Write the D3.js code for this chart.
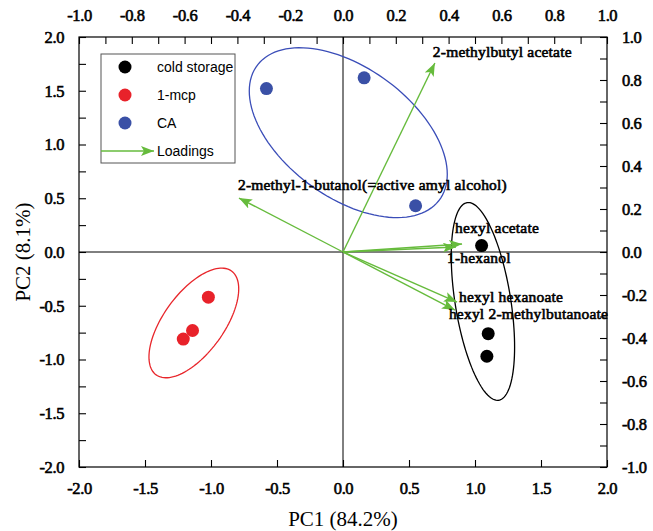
<!DOCTYPE html>
<html>
<head>
<meta charset="utf-8">
<script src="https://cdn.jsdelivr.net/npm/d3@7"></script>
<style>
  body { margin: 0; background: #fff; }
  svg { display: block; }
</style>
</head>
<body>
<svg id="chart" width="653" height="531"></svg>
<script>
// groups (scores, bottom/left axes)
var groups = ['cold storage', '1-mcp', 'CA'];
var groupColors = ['#000000', '#e8222a', '#3a50a6'];
var lineColors = ['#000000', '#e8262b', '#3a4db8'];

var scoresX = [[1.05, 1.10, 1.09], [-1.02, -1.14, -1.21], [-0.58, 0.16, 0.55]];
var scoresY = [[0.06, -0.76, -0.97], [-0.42, -0.73, -0.81], [1.52, 1.62, 0.43]];

// confidence ellipses: centre, half extents, correlation
var ellCx = [1.06, -1.13, 0.04];
var ellCy = [-0.46, -0.66, 1.11];
var ellHx = [0.24, 0.34, 0.75];
var ellHy = [0.92, 0.51, 0.79];
var ellR = [-0.46, 0.62, -0.49];

// loadings (top/right axes)
var loadNames = ['2-methylbutyl acetate', '2-methyl-1-butanol(=active amyl alcohol)',
  'hexyl acetate', '1-hexanol', 'hexyl hexanoate', 'hexyl 2-methylbutanoate'];
var loadX = [0.348, -0.394, 0.451, 0.428, 0.432, 0.424];
var loadY = [0.879, 0.251, 0.037, 0.023, -0.233, -0.27];

// ticks
var pcTicks = [-2.0, -1.5, -1.0, -0.5, 0.0, 0.5, 1.0, 1.5, 2.0];
var pcMinor = [-1.75, -1.25, -0.75, -0.25, 0.25, 0.75, 1.25, 1.75];
var loadTicks = [-1.0, -0.8, -0.6, -0.4, -0.2, 0.0, 0.2, 0.4, 0.6, 0.8, 1.0];
var loadMinor = [-0.9, -0.7, -0.5, -0.3, -0.1, 0.1, 0.3, 0.5, 0.7, 0.9];

var svg = d3.select('#chart');
var L = 79, R = 607, T = 37, B = 467;

var x = d3.scaleLinear().domain([-2, 2]).range([L, R]);
var y = d3.scaleLinear().domain([-2, 2]).range([B, T]);
var x2 = d3.scaleLinear().domain([-1, 1]).range([L, R]);
var y2 = d3.scaleLinear().domain([-1, 1]).range([B, T]);

var serif = '"Liberation Serif", "Times New Roman", serif';
var sans = '"Liberation Sans", Arial, sans-serif';
var green = '#66bb3c';

// regular serif + thin stroke = bold look
function boldSerif(sel, size, ls) {
  sel.style('font-family', serif).style('font-size', size + 'px')
    .style('font-weight', 'normal')
    .attr('fill', '#000').attr('stroke', '#000').attr('stroke-width', 0.6)
    .style('letter-spacing', (ls || 0) + 'px');
}

// zero lines
svg.append('line').attr('x1', x(0)).attr('x2', x(0)).attr('y1', T).attr('y2', B)
  .attr('stroke', '#000').attr('stroke-width', 1);
svg.append('line').attr('x1', L).attr('x2', R).attr('y1', y(0)).attr('y2', y(0))
  .attr('stroke', '#000').attr('stroke-width', 1);

// ellipses
var ts = d3.range(0, 361, 3).map(function(d) { return d * Math.PI / 180; });
groups.forEach(function(g, i) {
  var pts = ts.map(function(t) {
    var ex = ellCx[i] + ellHx[i] * Math.cos(t);
    var ey = ellCy[i] + ellHy[i] * (ellR[i] * Math.cos(t) + Math.sqrt(1 - ellR[i] * ellR[i]) * Math.sin(t));
    return [x(ex), y(ey)];
  });
  svg.append('path')
    .attr('d', d3.line().curve(d3.curveLinearClosed)(pts))
    .attr('fill', 'none')
    .attr('stroke', lineColors[i])
    .attr('stroke-width', 1.3);
});

// arrow marker
var defs = svg.append('defs');
defs.append('marker')
  .attr('id', 'ah')
  .attr('viewBox', '0 0 13 10')
  .attr('refX', 13).attr('refY', 5)
  .attr('markerWidth', 13).attr('markerHeight', 10)
  .attr('markerUnits', 'userSpaceOnUse')
  .attr('orient', 'auto')
  .append('path').attr('d', 'M0,0 L13,5 L0,10 L3,5 Z').attr('fill', green);

// loadings arrows
svg.selectAll('.load')
  .data(loadNames)
  .enter()
  .append('line')
  .attr('x1', x2(0)).attr('y1', y2(0))
  .attr('x2', function(d, i) { return x2(loadX[i]); })
  .attr('y2', function(d, i) { return y2(loadY[i]); })
  .attr('stroke', green)
  .attr('stroke-width', 1.4)
  .attr('marker-end', 'url(#ah)');

// label offsets from arrow tip
var labDx = [-2, -1, -7, -9, 2, -6];
var labDy = [-6, -8, -11, 16, 0, 9];
svg.selectAll('.lab')
  .data(loadNames)
  .enter()
  .append('text')
  .attr('x', function(d, i) { return x2(loadX[i]) + labDx[i]; })
  .attr('y', function(d, i) { return y2(loadY[i]) + labDy[i]; })
  .call(boldSerif, 15.5, 0.2)
  .text(function(d) { return d; });

// score points
groups.forEach(function(g, i) {
  svg.selectAll('.pt' + i)
    .data(scoresX[i])
    .enter()
    .append('circle')
    .attr('cx', function(d) { return x(d); })
    .attr('cy', function(d, j) { return y(scoresY[i][j]); })
    .attr('r', 6.5)
    .attr('fill', groupColors[i]);
});

// frame
svg.append('rect').attr('x', L).attr('y', T).attr('width', R - L).attr('height', B - T)
  .attr('fill', 'none').attr('stroke', '#000').attr('stroke-width', 1.2);

// axes with inward ticks
function styleAxis(g) {
  g.select('.domain').remove();
  g.selectAll('text').call(boldSerif, 16.5, -0.4);
  g.selectAll('line').attr('stroke', '#000').attr('stroke-width', 1.1);
}
var fmt = d3.format('.1f');
function lab(d) { return fmt(d).replace('−', '-'); }

svg.append('g').attr('transform', 'translate(0,' + B + ')')
  .call(d3.axisBottom(x).tickValues(pcTicks).tickFormat(lab).tickSizeInner(-7).tickSizeOuter(0).tickPadding(15))
  .call(styleAxis);
svg.append('g').attr('transform', 'translate(' + L + ',0)')
  .call(d3.axisLeft(y).tickValues(pcTicks).tickFormat(lab).tickSizeInner(-7).tickSizeOuter(0).tickPadding(15))
  .call(styleAxis);
svg.append('g').attr('transform', 'translate(' + L + ',0)')
  .call(d3.axisLeft(y).tickValues(pcMinor).tickFormat('').tickSizeInner(-7).tickSizeOuter(0))
  .call(styleAxis);
svg.append('g').attr('transform', 'translate(0,' + T + ')')
  .call(d3.axisTop(x2).tickValues(loadTicks).tickFormat(lab).tickSizeInner(-7).tickSizeOuter(0).tickPadding(16))
  .call(styleAxis);
svg.append('g').attr('transform', 'translate(0,' + T + ')')
  .call(d3.axisTop(x2).tickValues(loadMinor).tickFormat('').tickSizeInner(-7).tickSizeOuter(0))
  .call(styleAxis);
svg.append('g').attr('transform', 'translate(' + R + ',0)')
  .call(d3.axisRight(y2).tickValues(loadTicks).tickFormat(lab).tickSizeInner(-7).tickSizeOuter(0).tickPadding(15))
  .call(styleAxis);
svg.append('g').attr('transform', 'translate(' + R + ',0)')
  .call(d3.axisRight(y2).tickValues(loadMinor).tickFormat('').tickSizeInner(-7).tickSizeOuter(0))
  .call(styleAxis);

// axis titles
svg.append('text').attr('x', (L + R) / 2).attr('y', 526)
  .attr('text-anchor', 'middle').style('font-family', serif).style('font-size', '21px')
  .text('PC1 (84.2%)');
svg.append('text')
  .attr('transform', 'translate(30,' + ((T + B) / 2) + ') rotate(-90)')
  .attr('text-anchor', 'middle').style('font-family', serif).style('font-size', '21px')
  .text('PC2 (8.1%)');

// legend
var lx = 101, ly = 54, lw = 134, lh = 109;
svg.append('rect').attr('x', lx).attr('y', ly).attr('width', lw).attr('height', lh)
  .attr('fill', '#fff').attr('stroke', '#555').attr('stroke-width', 1);
var rowY = [67, 95, 123];
groups.forEach(function(g, i) {
  svg.append('circle').attr('cx', 125).attr('cy', rowY[i]).attr('r', 6.5).attr('fill', groupColors[i]);
  svg.append('text').attr('x', 157).attr('y', rowY[i] + 5)
    .style('font-family', sans).style('font-size', '14px').text(g);
});
svg.append('line').attr('x1', lx).attr('x2', 154).attr('y1', 151).attr('y2', 151)
  .attr('stroke', green).attr('stroke-width', 1.4).attr('marker-end', 'url(#ah)');
svg.append('text').attr('x', 157).attr('y', 156)
  .style('font-family', sans).style('font-size', '14px').text('Loadings');
</script>
</body>
</html>
